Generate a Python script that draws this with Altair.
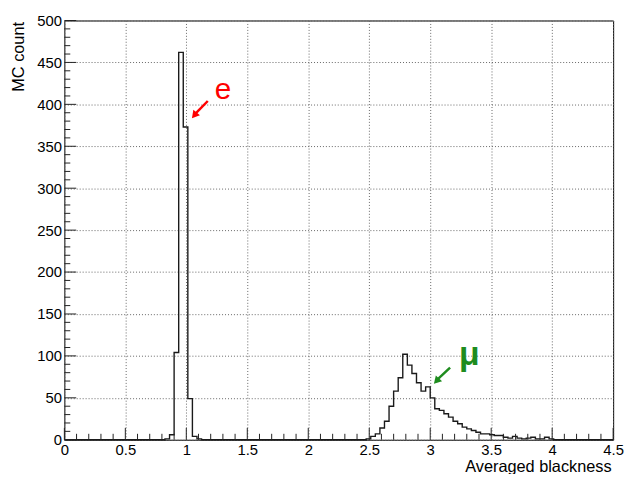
import altair as alt
import pandas as pd

# ---------------- data ----------------
N_BINS = 120
X_MIN, X_MAX = 0.0, 4.5
BIN_W = (X_MAX - X_MIN) / N_BINS

# electron peak (first non-empty bin index and counts)
e_first_bin = 22
e_counts = [1, 6, 104, 462, 373, 49, 4, 1]

# muon peak
mu_first_bin = 66
mu_counts = [1, 4, 7, 14, 22, 40, 58, 74, 102, 89, 79, 68, 58, 63, 50, 37,
             35, 31, 27, 22, 19, 15, 13, 11, 9, 7, 7, 6, 5, 5, 3, 2, 4, 2,
             1, 2, 3, 1, 1, 3, 1]

x_major = [0, 0.5, 1, 1.5, 2, 2.5, 3, 3.5, 4, 4.5]
x_minor = [round(i * 0.1, 1) for i in range(46) if i % 5 != 0]
y_major = [0, 50, 100, 150, 200, 250, 300, 350, 400, 450, 500]
y_minor = [v for v in range(0, 501, 10) if v % 50 != 0]

# annotations
labels_text = ["e", "μ"]
labels_x = [1.30, 3.32]
labels_y = [406, 89]
labels_color = ["#ff0000", "#1e8c1e"]
labels_size = [30, 34]

arrow_x1 = [1.176, 3.163]
arrow_y1 = [404, 86]
arrow_x2 = [1.075, 3.06]
arrow_y2 = [389, 72]
arrow_tip_x = [1.072, 3.058]
arrow_tip_y = [388, 71]
arrow_angle = [219.5, 223]
arrow_color = ["#ff0000", "#1e8c1e"]

# ---------------- tables ----------------
counts = [0] * N_BINS
for i, c in enumerate(e_counts):
    counts[e_first_bin + i] = c
for i, c in enumerate(mu_counts):
    counts[mu_first_bin + i] = c
edges = [X_MIN + i * BIN_W for i in range(N_BINS)]
hist_df = pd.DataFrame({"x": edges + [X_MAX], "count": counts + [counts[-1]]})

xmaj_df = pd.DataFrame({"x": x_major})
xmin_df = pd.DataFrame({"x": x_minor})
ymaj_df = pd.DataFrame({"count": y_major})
ymin_df = pd.DataFrame({"count": y_minor})
lab_df = pd.DataFrame({"x": labels_x, "count": labels_y, "t": labels_text,
                       "c": labels_color, "s": labels_size})
arr_df = pd.DataFrame({"x": arrow_x1, "count": arrow_y1, "x2": arrow_x2,
                       "y2": arrow_y2, "c": arrow_color})
tip_df = pd.DataFrame({"x": arrow_tip_x, "count": arrow_tip_y,
                       "a": arrow_angle, "c": arrow_color})

W, H = 555, 424
PAD_TOP, PAD_BOTTOM = 10, 32
FONT = "Liberation Sans"

xscale = alt.Scale(domain=[X_MIN, X_MAX], nice=False, zero=False)
yscale = alt.Scale(domain=[0, 500], nice=False)

xaxis = alt.Axis(values=x_major, format="~g", tickSize=0, labelPadding=3,
                 grid=True, domain=False, labelFlush=False,
                 title="Averaged blackness", titleAnchor="end", titleAlign="right",
                 titleBaseline="alphabetic", titleX=W - 2, titleY=32)
yaxis = alt.Axis(values=y_major, tickSize=0, labelPadding=3, grid=True,
                 domain=False, labelFlush=False,
                 title="MC count", titleAngle=270, titleAnchor="end",
                 titleAlign="right", titleBaseline="top", titleX=-54, titleY=1)


def X(field="x"):
    return alt.X(f"{field}:Q", scale=xscale, axis=xaxis)


def Y(field="count"):
    return alt.Y(f"{field}:Q", scale=yscale, axis=yaxis)


hist = alt.Chart(hist_df).mark_line(interpolate="step-after", color="#1a1a1a",
                                    strokeWidth=1.4).encode(x=X(), y=Y())

xmaj = alt.Chart(xmaj_df).mark_rule(color="#222", strokeWidth=1).encode(
    x=X(), y=alt.value(H), y2=alt.value(H - 12))
xmin = alt.Chart(xmin_df).mark_rule(color="#222", strokeWidth=1).encode(
    x=X(), y=alt.value(H), y2=alt.value(H - 6))
ymaj = alt.Chart(ymaj_df).mark_rule(color="#222", strokeWidth=1).encode(
    y=Y(), x=alt.value(0), x2=alt.value(12))
ymin = alt.Chart(ymin_df).mark_rule(color="#222", strokeWidth=1).encode(
    y=Y(), x=alt.value(0), x2=alt.value(6))

arrows = alt.Chart(arr_df).mark_rule(strokeWidth=2.5).encode(
    x=X(), y=Y(), x2="x2:Q", y2="y2:Q",
    color=alt.Color("c:N", scale=None))
tips = alt.Chart(tip_df).mark_point(shape="triangle", filled=True, size=75,
                                    opacity=1).encode(
    x=X(), y=Y(), angle=alt.Angle("a:Q", scale=None),
    color=alt.Color("c:N", scale=None))
e_label = alt.Chart(lab_df.iloc[[0]]).mark_text(
    font=FONT, align="center", baseline="alphabetic").encode(
    x=X(), y=Y(), text="t:N", color=alt.Color("c:N", scale=None),
    size=alt.Size("s:Q", scale=None))
mu_label = alt.Chart(lab_df.iloc[[1]]).mark_text(
    font=FONT, align="center", baseline="alphabetic", fontWeight="bold").encode(
    x=X(), y=Y(), text="t:N", color=alt.Color("c:N", scale=None),
    size=alt.Size("s:Q", scale=None))

chart = alt.layer(hist, xmaj, xmin, ymaj, ymin, arrows, tips, e_label,
                  mu_label).properties(
    width=W, height=H,
    autosize=alt.AutoSizeParams(type="none"),
    padding={"left": 57, "top": PAD_TOP, "right": 12, "bottom": PAD_BOTTOM},
).configure_view(stroke="#000", strokeWidth=1).configure_axis(
    labelFont=FONT, labelFontSize=15, labelColor="#000",
    titleFont=FONT, titleFontSize=16.5, titleColor="#000", titleFontWeight="normal",
    gridColor="#666", gridDash=[1, 2], gridWidth=1,
)

chart.save("out.html", embed_options={"renderer": "svg", "actions": False})
